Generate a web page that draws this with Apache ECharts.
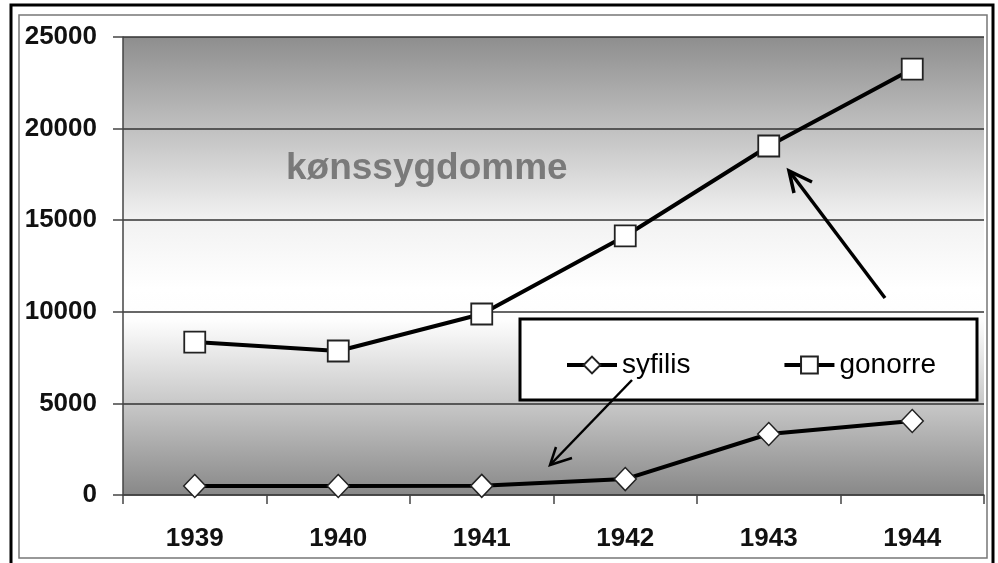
<!DOCTYPE html>
<html>
<head>
<meta charset="utf-8">
<script src="https://cdn.jsdelivr.net/npm/echarts@6/dist/echarts.min.js"></script>
<style>
html,body{margin:0;padding:0;background:#fff;}
#c{width:998px;height:563px;}
</style>
</head>
<body>
<div id="c"></div>
<script>
var categories = ['1939', '1940', '1941', '1942', '1943', '1944'];
var syfilis = [490, 490, 500, 870, 3330, 4040];
var gonorre = [8350, 7860, 9880, 14140, 19050, 23250];
var yTicks = [0, 5000, 10000, 15000, 20000, 25000];
var titleText = 'kønssygdomme';

var chart = echarts.init(document.getElementById('c'));
var font = '"Liberation Sans", Arial, sans-serif';

chart.setOption({
  animation: false,
  backgroundColor: '#ffffff',
  title: {
    text: titleText,
    left: 286,
    top: 150,
    padding: 0,
    textStyle: { fontFamily: font, fontWeight: 'bold', fontSize: 37, color: '#7a7a7a' }
  },
  grid: {
    left: 123, top: 37, right: 14, bottom: 68,
    show: true,
    borderWidth: 0,
    backgroundColor: new echarts.graphic.LinearGradient(0, 0, 0, 1, [
      { offset: 0, color: '#8e8e8e' },
      { offset: 0.2, color: '#c0c0c0' },
      { offset: 0.4, color: '#f2f2f2' },
      { offset: 0.55, color: '#ffffff' },
      { offset: 0.62, color: '#fdfdfd' },
      { offset: 0.8, color: '#c8c8c8' },
      { offset: 1, color: '#888888' }
    ])
  },
  legend: {
    left: 565,
    top: 351,
    padding: 0,
    itemGap: 92,
    itemWidth: 50,
    itemHeight: 21,
    z: 20,
    data: ['syfilis', 'gonorre'],
    lineStyle: { width: 4, color: '#000' },
    textStyle: { fontFamily: font, fontSize: 28, color: '#000' }
  },
  xAxis: {
    type: 'category',
    data: categories,
    boundaryGap: true,
    axisLine: { lineStyle: { color: '#444', width: 1.5 } },
    axisTick: { show: true, length: 9, alignWithLabel: false, lineStyle: { color: '#444', width: 1.5 } },
    axisLabel: { margin: 31, fontFamily: font, fontWeight: 'bold', fontSize: 26, color: '#111' },
    splitLine: { show: false }
  },
  yAxis: {
    type: 'value',
    min: 0, max: 25000, interval: 5000,
    axisLine: { show: true, lineStyle: { color: '#444', width: 1.5 } },
    axisTick: { show: true, length: 10, lineStyle: { color: '#444', width: 1.5 } },
    axisLabel: {
      margin: 26, fontFamily: font, fontWeight: 'bold', fontSize: 26, color: '#111',
      formatter: function (v) { return yTicks.indexOf(v) >= 0 ? String(v) : ''; }
    },
    splitLine: { show: true, lineStyle: { color: '#333', width: 1.5 } }
  },
  series: [
    {
      name: 'syfilis', type: 'line', data: syfilis,
      symbol: 'diamond', symbolSize: [22, 23],
      lineStyle: { color: '#000', width: 4 },
      itemStyle: { color: '#ffffff', borderColor: '#222', borderWidth: 1.5 },
      z: 3
    },
    {
      name: 'gonorre', type: 'line', data: gonorre,
      symbol: 'rect', symbolSize: 21,
      lineStyle: { color: '#000', width: 4 },
      itemStyle: { color: '#ffffff', borderColor: '#222', borderWidth: 1.8 },
      z: 3
    }
  ],
  graphic: [
    { type: 'rect', z: 10, shape: { x: 520, y: 319, width: 457, height: 81 },
      style: { fill: '#ffffff', stroke: '#000', lineWidth: 3 } },
    { type: 'rect', z: 30, silent: true, shape: { x: 19, y: 15, width: 968, height: 543 },
      style: { fill: null, stroke: '#777', lineWidth: 1.5 } },
    { type: 'rect', z: 30, silent: true, shape: { x: 11, y: 5, width: 982, height: 620 },
      style: { fill: null, stroke: '#000', lineWidth: 3 } },
    // arrow 1 (to gonorre)
    { type: 'polyline', z: 25, shape: { points: [[885, 298], [790, 172]] },
      style: { stroke: '#000', lineWidth: 3.5, fill: null } },
    { type: 'polyline', z: 25, shape: { points: [[794, 193], [789, 171], [812, 182]] },
      style: { stroke: '#000', lineWidth: 3.5, fill: null, lineJoin: 'miter' } },
    // arrow 2 (to syfilis)
    { type: 'polyline', z: 25, shape: { points: [[632, 380], [551, 464]] },
      style: { stroke: '#000', lineWidth: 2.5, fill: null } },
    { type: 'polyline', z: 25, shape: { points: [[556, 447], [550, 465], [572, 458]] },
      style: { stroke: '#000', lineWidth: 2.5, fill: null, lineJoin: 'miter' } }
  ]
});
</script>
</body>
</html>
